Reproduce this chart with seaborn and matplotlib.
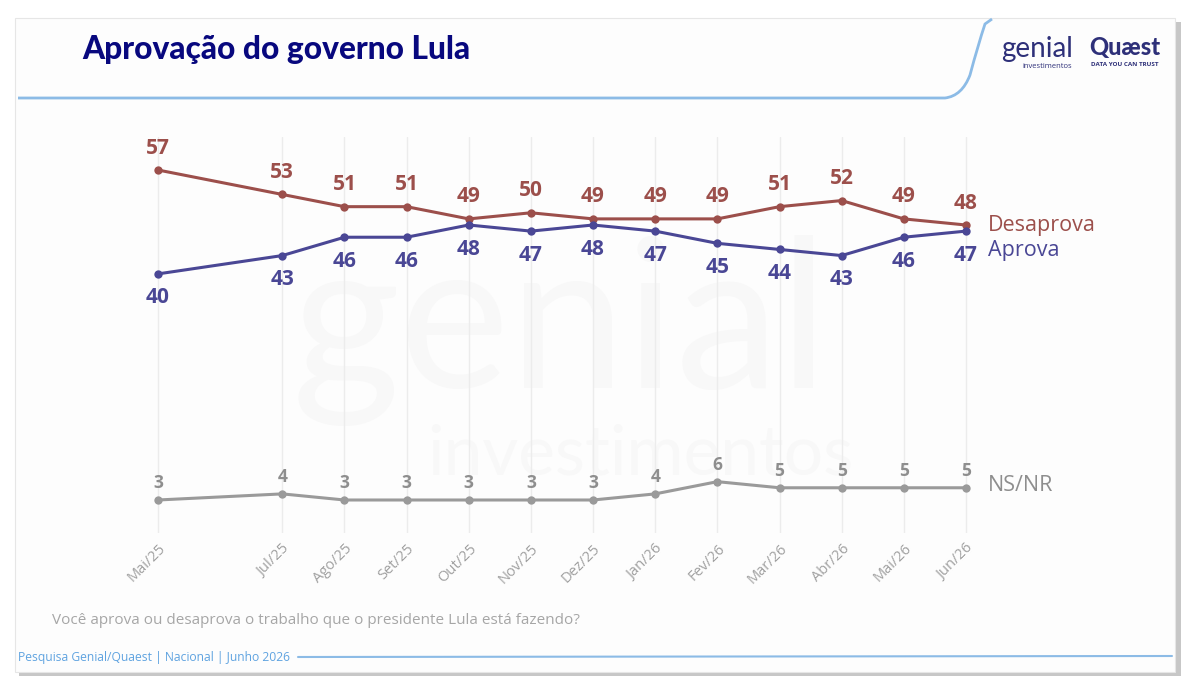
import pandas as pd
import numpy as np
import matplotlib.pyplot as plt
import seaborn as sns
from matplotlib.patches import FancyBboxPatch
from matplotlib.path import Path
from matplotlib.patches import PathPatch

# data
months = ['Mai/25', 'Jul/25', 'Ago/25', 'Set/25', 'Out/25', 'Nov/25', 'Dez/25',
          'Jan/26', 'Fev/26', 'Mar/26', 'Abr/26', 'Mai/26', 'Jun/26']
desaprova = [57, 53, 51, 51, 49, 50, 49, 49, 49, 51, 52, 49, 48]
aprova = [40, 43, 46, 46, 48, 47, 48, 47, 45, 44, 43, 46, 47]
nsnr = [3, 4, 3, 3, 3, 3, 3, 4, 6, 5, 5, 5, 5]

month_num = {'Jan': 1, 'Fev': 2, 'Mar': 3, 'Abr': 4, 'Mai': 5, 'Jun': 6, 'Jul': 7,
             'Ago': 8, 'Set': 9, 'Out': 10, 'Nov': 11, 'Dez': 12}
# months since Mai/25, so the missing Jun/25 leaves a gap
pos = [(2000 + int(m[4:]) - 2025) * 12 + month_num[m[:3]] - 5 for m in months]

df = pd.concat([
    pd.DataFrame({'x': pos, 'valor': desaprova, 'serie': 'Desaprova'}),
    pd.DataFrame({'x': pos, 'valor': aprova, 'serie': 'Aprova'}),
    pd.DataFrame({'x': pos, 'valor': nsnr, 'serie': 'NS/NR'}),
])

cores = {'Desaprova': '#9c4f4b', 'Aprova': '#4a4795', 'NS/NR': '#9a9a9a'}

sns.set_style('white')
plt.rcParams['font.family'] = ['Open Sans', 'DejaVu Sans']

W, H = 1194, 688
fig = plt.figure(figsize=(W / 100, H / 100), dpi=100)
fig.patch.set_facecolor('white')


def fx(x):
    return x / W


def fy(y):
    return 1 - y / H


# slide card with shadow
shadow = FancyBboxPatch((fx(19), fy(676)), fx(1162), fy(22) - fy(676),
                        boxstyle='square,pad=0', transform=fig.transFigure,
                        facecolor='#9a9a9a', edgecolor='none', alpha=0.55, zorder=0)
fig.patches.append(shadow)
card = FancyBboxPatch((fx(15), fy(672)), fx(1160), fy(18) - fy(672),
                      boxstyle='square,pad=0', transform=fig.transFigure,
                      facecolor='#fdfdfd', edgecolor='#e6e6e6', linewidth=0.8, zorder=0.5)
fig.patches.append(card)

# blue line under the title, curving up to the top right
verts = [(fx(18), fy(98)), (fx(945), fy(98)), (fx(962), fy(96)),
         (fx(970), fy(75)), (fx(978), fy(45)), (fx(985), fy(24)), (fx(992), fy(19))]
codes = [Path.MOVETO, Path.LINETO, Path.CURVE3, Path.CURVE3, Path.CURVE3, Path.CURVE3, Path.LINETO]
fig.patches.append(PathPatch(Path(verts, codes), transform=fig.transFigure, fill=False,
                             edgecolor='#8cbbe6', linewidth=2, zorder=1))

fig.text(fx(82), fy(50), 'Aprovação do governo Lula', fontsize=22.8, fontweight='black',
         color='#08087e', va='center', ha='left', family=['Lato', 'DejaVu Sans'])

# logos as text
fig.text(fx(1001), fy(49), 'genial', fontsize=20, color='#2e3079', va='center', ha='left',
         family=['Lato', 'DejaVu Sans'])
fig.text(fx(1022), fy(67), 'investimentos', fontsize=5.5, color='#2e3079', va='center', ha='left')
fig.text(fx(1089), fy(48), 'Quæst', fontsize=17, fontweight='black', color='#2e3079',
         va='center', ha='left', family=['Lato', 'DejaVu Sans'])
fig.text(fx(1091), fy(65), 'DATA YOU CAN TRUST', fontsize=4.5, fontweight='bold',
         color='#2e3079', va='center', ha='left')

# faint watermark
fig.text(fx(560), fy(330), 'genial', fontsize=150, color='#f8f8f8', va='center', ha='center',
         family=['Lato', 'DejaVu Sans'], zorder=1)
fig.text(fx(640), fy(455), 'investimentos', fontsize=50, color='#f8f8f8', va='center', ha='center',
         family=['Lato', 'DejaVu Sans'], zorder=1)

ax = fig.add_axes([fx(100), fy(533), fx(1040) - fx(100), fy(137) - fy(533)])
ax.set_zorder(2)
ax.patch.set_alpha(0)

sns.lineplot(data=df, x='x', y='valor', hue='serie', palette=cores, marker='o',
             markersize=6, markeredgewidth=0, linewidth=2.2, legend=False, ax=ax, zorder=3)

ax.set_xlim(-58 / 62.15, (1040 - 158) / 62.15)
ax.set_ylim(3 - 33 / 6.11, 57 + 33 / 6.11)
ax.set_xticks(pos)
ax.set_xticklabels(months, rotation=45, ha='right', rotation_mode='anchor',
                   fontsize=10.5, color='#a0a0a0')
ax.tick_params(axis='x', length=0, pad=6)
ax.set_yticks([])
ax.set_xlabel('')
ax.set_ylabel('')
ax.grid(axis='x', color='#ececec', linewidth=1)
ax.grid(axis='y', visible=False)
sns.despine(ax=ax, left=True, bottom=True)

offsets = {'Desaprova': 22, 'Aprova': -24, 'NS/NR': 17}
sizes = {'Desaprova': 15, 'Aprova': 15, 'NS/NR': 12.5}
for serie, vals in [('Desaprova', desaprova), ('Aprova', aprova), ('NS/NR', nsnr)]:
    for xp, v in zip(pos, vals):
        ax.annotate(str(v), (xp, v), xytext=(0, offsets[serie]), textcoords='offset pixels',
                    ha='center', va='center', fontsize=sizes[serie], fontweight='bold',
                    color=cores[serie] if serie != 'NS/NR' else '#8e8e8e')

ax.annotate('Desaprova', (pos[-1], desaprova[-1]), xytext=(22, 0), textcoords='offset pixels',
            ha='left', va='center', fontsize=15.5, color=cores['Desaprova'])
ax.annotate('Aprova', (pos[-1], aprova[-1]), xytext=(22, -19), textcoords='offset pixels',
            ha='left', va='center', fontsize=15.5, color=cores['Aprova'])
ax.annotate('NS/NR', (pos[-1], nsnr[-1]), xytext=(22, 2), textcoords='offset pixels',
            ha='left', va='center', fontsize=15.5, color='#8e8e8e')

fig.text(fx(52), fy(620), 'Você aprova ou desaprova o trabalho que o presidente Lula está fazendo?',
         fontsize=11, color='#a6a6a6', va='center', ha='left')
fig.text(fx(18), fy(658), 'Pesquisa Genial/Quaest | Nacional | Junho 2026', fontsize=8.7,
         color='#5fa3e0', va='center', ha='left')
fig.add_artist(plt.Line2D([fx(298), fx(1172)], [fy(657), fy(656)], color='#8cbbe6',
                          linewidth=1.5, transform=fig.transFigure))

fig.savefig('out.png', dpi=100)
